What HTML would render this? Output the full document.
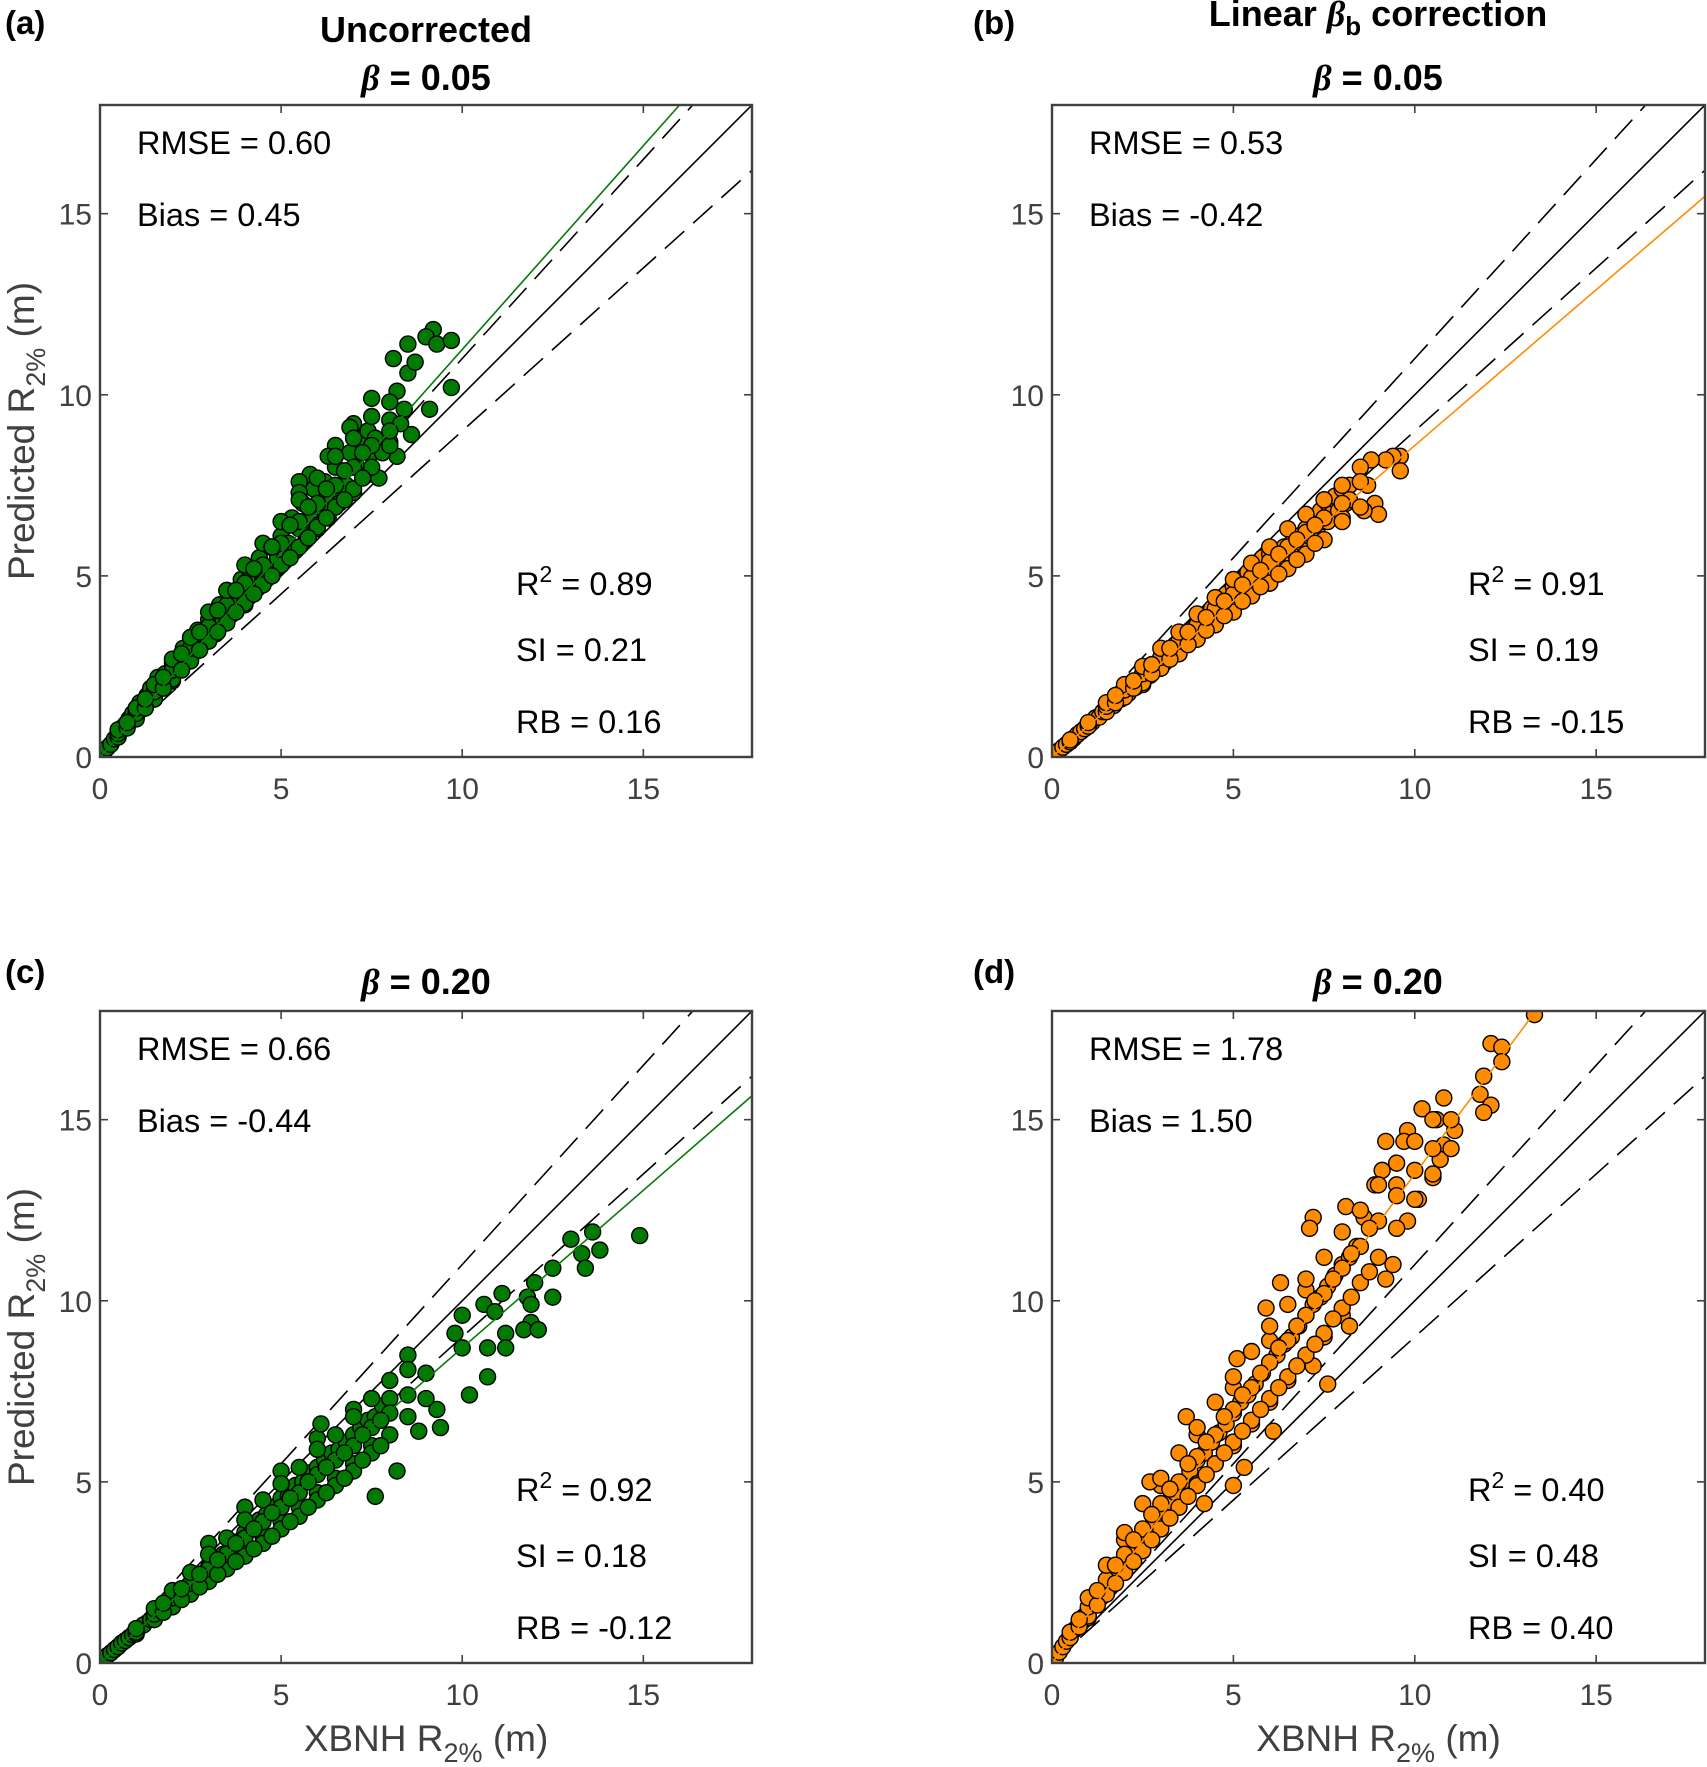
<!DOCTYPE html>
<html><head><meta charset="utf-8">
<style>
html,body{margin:0;padding:0;background:#fff;}
svg{display:block;font-family:"Liberation Sans",Arial,sans-serif;}
.tick{font-size:30px;fill:#404040;}
.stat{font-size:32.5px;fill:#000;}
.ttl{font-size:36px;font-weight:bold;fill:#000;}
.plab{font-size:33px;font-weight:bold;fill:#000;}
.lab{font-size:37px;fill:#404040;}
</style></head>
<body>
<svg id="fig" width="1707" height="1767" viewBox="0 0 1707 1767" xmlns="http://www.w3.org/2000/svg">
<text x="5" y="34" class="plab">(a)</text>
<text x="973" y="34" class="plab">(b)</text>
<text x="5" y="983" class="plab">(c)</text>
<text x="973" y="983" class="plab">(d)</text>
<text x="426" y="42" text-anchor="middle" class="ttl">Uncorrected</text>
<text x="426" y="90" text-anchor="middle" class="ttl"><tspan font-family="Liberation Serif" font-style="italic">β</tspan> = 0.05</text>
<text x="1378" y="26" text-anchor="middle" class="ttl">Linear <tspan font-family="Liberation Serif" font-style="italic">β</tspan><tspan dy="9" font-size="26">b</tspan><tspan dy="-9"> correction</tspan></text>
<text x="1378" y="90" text-anchor="middle" class="ttl"><tspan font-family="Liberation Serif" font-style="italic">β</tspan> = 0.05</text>
<text x="426" y="994" text-anchor="middle" class="ttl"><tspan font-family="Liberation Serif" font-style="italic">β</tspan> = 0.20</text>
<text x="1378" y="994" text-anchor="middle" class="ttl"><tspan font-family="Liberation Serif" font-style="italic">β</tspan> = 0.20</text>
</svg>
<script>
const tickVals=[0,5,10,15];
const axisMax=[18];
const refSlopes=[1,1.1,0.9];
const fitSlopes=[1.125,0.86,0.87,1.35];
const statsA=["RMSE = 0.60","Bias = 0.45","0.89","SI = 0.21","RB = 0.16"];
const statsB=["RMSE = 0.53","Bias = -0.42","0.91","SI = 0.19","RB = -0.15"];
const statsC=["RMSE = 0.66","Bias = -0.44","0.92","SI = 0.18","RB = -0.12"];
const statsD=["RMSE = 1.78","Bias = 1.50","0.40","SI = 0.48","RB = 0.40"];
const aX=[0.1,0.2,0.3,0.4,0.5,0.6,0.7,0.8,0.9,1.0,1.1,1.2,1.3,1.4,1.5,1.6,1.7,1.8,1.9,2.0,2.1,2.2,2.3,2.4,2.5,2.6,2.7,2.8,2.9,3.0,3.1,3.2,3.3,3.4,3.5,3.6,3.7,3.8,3.9,4.0,4.1,4.2,4.3,4.4,4.5,4.6,4.7,4.8,4.9,5.0,5.1,5.2,5.3,5.4,5.5,5.6,5.7,5.8,5.9,6.0,6.1,6.2,6.3,6.4,6.5,6.6,6.8,6.9,7.0,7.1,7.2,7.4,7.5,7.7,7.8,8.0,8.2,2.0,3.0,4.0,5.0,6.0,1.0,1.5,2.5,3.5,4.5,9.2,9.0,9.3,9.7,8.5,8.1,8.5,8.7,8.2,9.7,7.5,8.4,9.1,7.0,7.4,8.6,8.0,8.3,7.8,6.5,6.3,5.8,5.5,5.5,6.9,7.6,
0.5,0.5,0.5,1.0,1.0,1.0,1.5,1.5,1.5,2.0,2.0,2.0,2.5,2.5,2.5,3.0,3.0,3.0,3.5,3.5,3.5,4.0,4.0,4.0,4.5,4.5,4.5,5.0,5.0,5.0,5.5,5.5,5.5,6.0,6.0,6.0,6.5,6.5,6.5,7.0,7.0,7.0,7.5,7.5,7.5,8.0,8.0,8.0,
0.75,0.75,1.25,1.25,1.75,1.75,2.25,2.25,2.75,2.75,3.25,3.25,3.75,3.75,4.25,4.25,4.75,4.75,5.25,5.25,5.75,5.75,6.25,6.25,6.75,6.75,7.25,7.25];
const aY=[0.1,0.25,0.35,0.5,0.7,0.8,0.9,1.05,1.2,1.2,1.5,1.4,1.7,1.9,1.7,2.2,2.0,2.3,2.1,2.6,2.4,2.5,3.0,2.7,3.3,2.9,3.5,3.1,3.3,3.8,3.5,3.4,4.2,3.8,4.1,4.5,4.0,4.3,4.9,4.4,5.2,4.6,5.0,5.5,4.9,5.2,5.8,5.1,5.5,6.1,5.5,5.9,6.6,5.7,6.3,7.0,6.0,6.6,7.4,6.3,6.9,7.6,6.6,7.2,8.0,7.0,7.5,8.4,7.3,8.0,8.8,7.8,8.4,7.7,8.4,8.7,8.3,2.1,3.2,4.2,5.3,6.4,1.1,1.6,2.7,3.7,4.8,11.8,11.6,11.4,11.5,11.4,11.0,10.6,10.9,10.1,10.2,9.9,9.6,9.6,9.2,9.0,8.9,9.3,9.2,8.4,8.6,8.3,7.8,7.6,7.3,9.1,8.8,
0.55,0.65,0.75,1.05,1.2,1.35,1.6,1.8,2.0,2.15,2.4,2.7,2.65,3.0,3.3,3.2,3.6,4.0,3.7,4.2,4.6,4.25,4.8,5.3,4.75,5.3,5.9,5.3,5.9,6.5,5.8,6.5,7.1,6.35,7.0,7.7,6.9,7.5,8.3,7.4,8.0,8.8,8.0,8.6,9.4,8.6,9.0,9.8,
0.8,0.95,1.35,1.6,1.9,2.2,2.4,2.85,2.95,3.45,3.45,4.05,4.0,4.6,4.5,5.2,5.0,5.8,5.5,6.4,6.05,6.9,6.6,7.4,7.1,7.9,7.7,8.4];
const bX=[0.1,0.2,0.3,0.4,0.5,0.6,0.7,0.8,0.9,1.0,1.1,1.2,1.3,1.4,1.5,1.6,1.7,1.8,1.9,2.0,2.1,2.2,2.3,2.4,2.5,2.6,2.7,2.8,2.9,3.0,3.1,3.2,3.3,3.4,3.5,3.6,3.7,3.8,3.9,4.0,4.1,4.2,4.3,4.4,4.5,4.6,4.7,4.8,4.9,5.0,5.1,5.2,5.3,5.4,5.5,5.6,5.7,5.8,5.9,6.0,6.1,6.2,6.3,6.4,6.5,6.6,6.7,6.8,6.9,7.0,7.1,7.2,7.3,7.4,7.5,7.6,7.7,7.8,7.9,8.0,8.1,8.2,9.6,9.4,9.2,8.8,8.5,9.6,8.7,8.9,9.0,8.6,8.0,7.6,8.2,7.5,3.0,4.0,5.0,6.0,2.5,3.5,4.5,5.5,6.5,
0.5,0.5,1.0,1.0,1.5,1.5,1.5,2.0,2.0,2.0,2.5,2.5,2.5,3.0,3.0,3.0,3.5,3.5,3.5,4.0,4.0,4.0,4.5,4.5,4.5,5.0,5.0,5.0,5.5,5.5,5.5,6.0,6.0,6.0,6.5,6.5,6.5,7.0,7.0,7.0,7.5,7.5,7.5,8.0,8.0,8.0,8.5,8.5,
1.75,1.75,2.25,2.25,2.75,2.75,3.25,3.25,3.75,3.75,4.25,4.25,4.75,4.75,5.25,5.25,5.75,5.75,6.25,6.25,6.75,6.75,7.25,7.25];
const bY=[0.08,0.18,0.27,0.35,0.45,0.52,0.62,0.7,0.78,0.9,0.95,1.08,1.1,1.25,1.28,1.45,1.42,1.6,1.6,1.8,1.75,1.98,1.92,2.15,2.1,2.35,2.25,2.5,2.45,2.7,2.6,2.9,2.8,3.1,3.0,3.3,3.15,3.5,3.3,3.7,3.45,3.9,3.6,4.1,3.8,4.3,3.95,4.5,4.1,4.7,4.25,4.9,4.4,5.1,4.6,5.3,4.8,5.5,4.95,5.6,5.1,5.7,5.3,5.8,5.5,5.9,5.7,6.1,5.9,6.3,6.1,6.6,6.2,6.8,6.5,7.0,6.7,7.2,6.8,7.4,7.0,7.5,8.3,8.3,8.2,8.2,8.0,7.9,7.5,7.0,6.7,6.8,6.6,6.5,7.1,7.1,2.45,3.25,4.05,4.8,2.0,2.85,3.65,4.45,5.3,
0.42,0.47,0.85,0.95,1.25,1.4,1.5,1.65,1.85,2.0,2.05,2.3,2.5,2.45,2.75,3.0,2.85,3.2,3.45,3.25,3.65,3.95,3.65,4.1,4.4,4.0,4.5,4.9,4.45,4.95,5.35,4.8,5.4,5.8,5.2,5.8,6.3,5.6,6.2,6.7,6.0,6.6,7.1,6.5,7.0,7.5,6.9,7.6,
1.5,1.7,1.9,2.1,2.3,2.55,2.7,3.0,3.1,3.45,3.5,3.85,3.9,4.3,4.3,4.75,4.7,5.15,5.05,5.6,5.45,6.0,5.9,6.4];
const cX=[0.1,0.2,0.3,0.4,0.5,0.6,0.7,0.8,0.9,1.0,1.2,1.4,1.6,1.8,2.0,2.2,2.4,2.6,2.8,3.0,3.2,3.4,3.6,3.8,4.0,4.2,4.4,4.6,4.8,5.0,5.2,5.4,5.6,5.8,6.0,6.2,6.4,6.6,6.8,7.0,7.2,7.4,7.6,7.8,8.0,1.0,1.5,2.0,2.5,3.0,3.5,4.0,4.5,5.0,5.5,6.0,6.5,7.0,7.5,3.0,4.0,5.0,6.0,7.0,14.9,13.6,13.0,13.8,13.3,13.4,12.5,12.0,11.8,12.5,11.1,11.9,10.6,10.0,11.9,11.7,12.1,10.9,11.2,11.2,9.8,10.7,10.7,10.2,10.0,9.4,8.8,8.2,7.6,8.5,9.3,6.1,
1.0,1.0,1.5,1.5,1.5,2.0,2.0,2.0,2.5,2.5,2.5,3.0,3.0,3.0,3.5,3.5,3.5,4.0,4.0,4.0,4.5,4.5,4.5,5.0,5.0,5.0,5.5,5.5,5.5,6.0,6.0,6.0,6.5,6.5,6.5,7.0,7.0,7.0,7.5,7.5,7.5,8.0,8.0,8.0,8.5,8.5,8.5,9.0,9.0,
1.75,1.75,2.25,2.25,2.75,2.75,3.25,3.25,3.75,3.75,4.25,4.25,4.75,4.75,5.25,5.25,5.75,5.75,6.25,6.25,6.75,6.75,7.25,7.25,7.75,7.75];
const cY=[0.1,0.2,0.28,0.37,0.45,0.55,0.62,0.7,0.78,0.88,1.05,1.2,1.4,1.55,1.75,1.9,2.1,2.3,2.45,2.65,2.8,3.0,3.2,3.35,3.6,3.7,3.95,4.1,4.3,4.55,4.6,4.9,5.0,5.25,5.4,5.6,5.8,5.9,6.1,6.3,6.5,6.7,6.8,7.1,7.3,0.8,1.2,1.55,1.95,2.3,2.7,3.1,3.5,3.9,4.3,4.7,5.1,5.5,6.0,3.3,4.3,5.3,6.2,7.0,11.8,11.9,11.7,11.4,11.3,10.9,10.9,10.5,10.1,10.1,10.2,9.9,9.9,9.6,9.4,9.2,9.2,9.7,9.1,8.7,9.1,8.7,7.9,7.4,8.7,6.5,6.4,5.3,4.6,8.5,7.0,6.6,
0.85,0.95,1.2,1.35,1.5,1.55,1.8,2.0,1.9,2.2,2.5,2.25,2.6,3.0,2.6,3.0,3.45,2.95,3.45,3.95,3.3,3.9,4.5,3.7,4.3,4.95,4.05,4.7,5.4,4.5,5.2,5.9,4.9,5.6,6.3,5.3,6.0,6.8,5.8,6.5,7.3,6.3,6.9,7.8,6.8,7.4,8.1,7.3,8.0,
1.4,1.65,1.75,2.05,2.1,2.45,2.45,2.85,2.8,3.3,3.15,3.7,3.5,4.15,3.9,4.55,4.3,5.0,4.7,5.4,5.1,5.8,5.6,6.3,6.0,6.7];
const dX=[0.1,0.2,0.3,0.4,0.5,0.6,0.7,0.8,0.9,1.0,1.2,1.4,1.6,1.8,2.0,2.2,2.4,2.6,2.8,3.0,3.2,3.4,3.6,3.8,4.0,4.2,4.4,4.6,4.8,5.0,5.2,5.4,5.6,5.8,6.0,6.2,6.4,6.6,6.8,7.0,7.2,7.4,7.6,7.8,8.0,8.2,8.4,1.0,1.5,2.0,2.5,3.0,3.5,4.0,4.5,5.0,5.5,6.0,6.5,7.0,7.5,8.0,2.0,3.0,4.0,5.0,6.0,7.0,13.3,12.1,12.4,12.4,11.9,11.8,12.1,11.9,10.8,10.2,10.6,11.1,9.8,10.8,9.2,9.7,9.1,10.7,10.5,8.9,9.5,9.8,10.1,7.2,7.1,8.1,8.6,9.4,9.2,6.3,5.9,8.2,7.6,7.2,5.1,6.1,5.3,5.0,3.7,2.7,4.2,
0.5,0.5,1.0,1.0,1.0,1.5,1.5,1.5,2.0,2.0,2.0,2.5,2.5,2.5,3.0,3.0,3.0,3.5,3.5,3.5,4.0,4.0,4.0,4.5,4.5,4.5,5.0,5.0,5.0,5.5,5.5,5.5,6.0,6.0,6.0,6.5,6.5,6.5,7.0,7.0,7.0,7.5,7.5,7.5,8.0,8.0,8.0,8.5,8.5,8.5,9.0,9.0,9.0,9.5,9.5,9.5,10.0,10.0,10.0,10.5,10.5,10.5,11.0,11.0,
0.75,0.75,1.25,1.25,1.75,1.75,2.25,2.25,2.75,2.75,3.25,3.25,3.75,3.75,4.25,4.25,4.75,4.75,5.25,5.25,5.75,5.75,6.25,6.25,6.75,6.75,7.25,7.25,7.75,7.75,8.25,8.25,8.75,8.75];
const dY=[0.15,0.3,0.45,0.6,0.75,0.9,1.0,1.15,1.3,1.45,1.75,2.0,2.3,2.55,2.85,3.1,3.35,3.6,3.9,4.2,4.45,4.7,5.0,5.3,5.6,5.8,6.1,6.35,6.6,6.9,7.2,7.4,7.7,8.0,8.3,8.5,8.8,9.0,9.3,9.6,9.9,10.1,10.4,10.7,11.0,11.2,11.5,1.25,1.95,2.5,3.1,3.7,4.3,4.95,5.5,6.0,6.6,7.2,7.8,8.4,9.0,9.6,3.4,4.9,6.3,7.6,8.9,10.3,17.9,17.1,17.0,16.6,16.2,15.7,15.4,15.2,15.6,15.3,15.0,14.7,14.7,14.3,14.4,14.4,13.6,13.9,13.4,13.2,13.2,12.2,12.8,12.3,12.0,12.6,12.3,11.0,10.6,10.5,9.8,9.3,7.7,8.2,8.4,6.4,5.4,4.9,6.8,5.0,4.4,
0.7,0.85,1.3,1.55,1.8,1.9,2.3,2.7,2.5,3.0,3.6,3.1,3.7,4.4,3.7,4.4,5.1,4.3,5.0,5.8,4.9,5.7,6.5,5.5,6.3,7.2,6.1,7.0,7.9,6.7,7.6,8.6,7.3,8.3,9.3,7.9,8.9,9.9,8.5,9.6,10.6,9.1,10.2,11.2,9.8,10.9,11.9,10.5,11.5,12.5,11.2,12.2,13.2,12.0,12.9,13.8,12.8,13.6,14.4,13.5,14.2,15.0,14.2,15.0,
1.0,1.2,1.6,2.0,2.2,2.7,2.8,3.4,3.4,4.1,4.0,4.8,4.6,5.5,5.2,6.1,5.8,6.8,6.4,7.4,7.0,8.0,7.6,8.7,8.2,9.3,8.8,10.0,9.5,10.6,10.1,11.3,10.8,12.0];

const NS='http://www.w3.org/2000/svg';
const svg=document.getElementById('fig');
function mk(tag,attrs,parent){const e=document.createElementNS(NS,tag);for(const k in attrs)e.setAttribute(k,attrs[k]);(parent||svg).appendChild(e);return e;}

function panel(id,L,T,W,H,xs,ys,fill,slope,stats,showX,showY){
  const g=mk('g',{});
  
  
  const M=axisMax[0];
  const sx=v=>L+v/M*W, sy=v=>T+H-v/M*H;
  const defs=mk('clipPath',{id:'clip'+id},g);
  mk('rect',{x:L,y:T,width:W,height:H},defs);
  const pg=mk('g',{'clip-path':'url(#clip'+id+')'},g);
  refSlopes.forEach((s,i)=>{
    const l=mk('line',{x1:sx(0),y1:sy(0),x2:sx(M),y2:sy(M*s),stroke:'#000','stroke-width':1.6,'stroke-dasharray':i?'26,12':'none'},pg);
    
    
  });
  xs.forEach((x,i)=>{
    const c=mk('circle',{cx:sx(x),cy:sy(ys[i]),r:8,fill:fill,stroke:'#000','stroke-width':1.4},pg);
    
    
  });
  const xe=Math.min(M,M/slope);
  const fl=mk('line',{x1:sx(0),y1:sy(0),x2:sx(xe),y2:sy(xe*slope),stroke:fill==='#007a00'?'#0a7a0a':'#ff8c00','stroke-width':1.6},pg);
  
  
  const bx=mk('rect',{x:L,y:T,width:W,height:H,fill:'none',stroke:'#404040','stroke-width':2.4},g);
  
  
  tickVals.forEach(v=>{
    mk('line',{x1:sx(v),y1:T+H,x2:sx(v),y2:T+H-8,stroke:'#404040','stroke-width':1.6},g);
    mk('line',{x1:sx(v),y1:T,x2:sx(v),y2:T+8,stroke:'#404040','stroke-width':1.6},g);
    mk('line',{x1:L,y1:sy(v),x2:L+8,y2:sy(v),stroke:'#404040','stroke-width':1.6},g);
    mk('line',{x1:L+W,y1:sy(v),x2:L+W-8,y2:sy(v),stroke:'#404040','stroke-width':1.6},g);
    const tx=mk('text',{x:sx(v),y:T+H+42,'text-anchor':'middle',class:'tick'},g);tx.textContent=v;
    
    
    const ty=mk('text',{x:L-8,y:sy(v)+11,'text-anchor':'end',class:'tick'},g);ty.textContent=v;
    
    
  });
  const s1=mk('text',{x:L+37,y:T+49,class:'stat'},g);s1.textContent=stats[0];
  
  
  const s2=mk('text',{x:L+37,y:T+121,class:'stat'},g);s2.textContent=stats[1];
  
  
  const s3=mk('text',{x:L+416,y:T+490,class:'stat'},g);
  
  
  s3.innerHTML='R<tspan dy="-13" font-size="23">2</tspan><tspan dy="13"> = '+stats[2]+'</tspan>';
  const s4=mk('text',{x:L+416,y:T+556,class:'stat'},g);s4.textContent=stats[3];
  
  
  const s5=mk('text',{x:L+416,y:T+628,class:'stat'},g);s5.textContent=stats[4];
  
  
  if(showX){
    const xl=mk('text',{x:L+W/2,y:T+H+88,'text-anchor':'middle',class:'lab'},g);
    
    
    xl.innerHTML='XBNH R<tspan dy="11" font-size="27">2%</tspan><tspan dy="-11"> (m)</tspan>';
  }
  if(showY){
    const yl=mk('text',{x:0,y:0,'text-anchor':'middle',class:'lab',transform:'translate(34,'+(T+H/2)+') rotate(-90)'},g);
    
    
    yl.innerHTML='Predicted R<tspan dy="11" font-size="27">2%</tspan><tspan dy="-11"> (m)</tspan>';
  }
}
panel('a',100,105,652,652,aX,aY,'#007a00',fitSlopes[0],statsA,false,true);
panel('b',1052,105,653,652,bX,bY,'#ff8c00',fitSlopes[1],statsB,false,false);
panel('c',100,1011,652,652,cX,cY,'#007a00',fitSlopes[2],statsC,true,true);
panel('d',1052,1011,653,652,dX,dY,'#ff8c00',fitSlopes[3],statsD,true,false);
</script>
</body></html>
